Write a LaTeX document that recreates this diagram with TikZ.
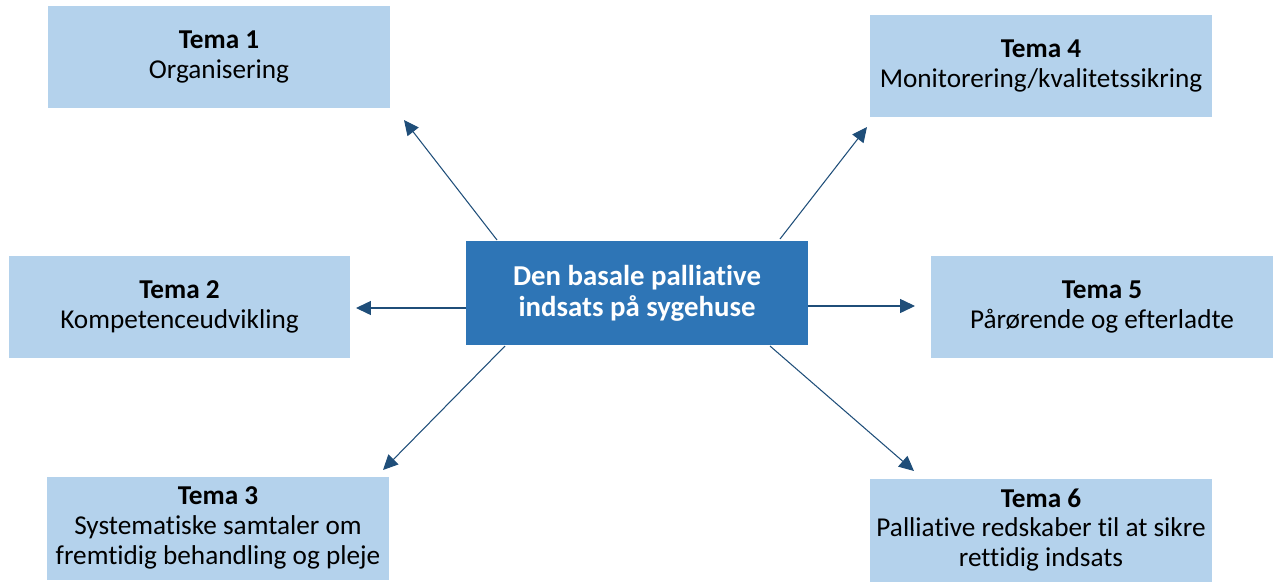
\documentclass[tikz,border=0pt]{standalone}
\usepackage{fontspec}
\setmainfont{Carlito}[Ligatures=NoCommon]
\usetikzlibrary{arrows.meta}
\definecolor{temafill}{HTML}{B4D2EC}
\definecolor{hubfill}{HTML}{2E75B6}
\definecolor{pil}{HTML}{1F4E79}
\tikzset{
  tema/.style={fill=temafill,minimum width=6.84cm,minimum height=2.06cm,
    align=center,inner sep=2pt,font=\fontsize{15.5}{17}\selectfont},
  hub/.style={fill=hubfill,text=white,minimum width=6.84cm,minimum height=2.08cm,
    align=center,font=\fontsize{16.4}{17.5}\selectfont\bfseries},
  pile/.style={draw=pil,line width=0.6pt,-{Triangle[length=8.5pt,width=8pt]}}
}
\begin{document}
\begin{tikzpicture}[x=0.02cm,y=-0.02cm]
  \useasboundingbox (0,0) rectangle (1274,582);
  % temaer
  \node[tema] (t1) at (219,57)   {\textbf{Tema 1}\\Organisering};
  \node[tema] (t2) at (179.5,307) {\textbf{Tema 2}\\Kompetenceudvikling};
  \node[tema] (t3) at (218,528)  {\textbf{Tema 3}\\Systematiske samtaler om\\fremtidig behandling og pleje};
  \node[tema] (t4) at (1041,66)  {\textbf{Tema 4}\\Monitorering/kvalitetssikring};
  \node[tema] (t5) at (1102,307) {\textbf{Tema 5}\\Pårørende og efterladte};
  \node[tema] (t6) at (1041,530) {\textbf{Tema 6}\\Palliative redskaber til at sikre\\rettidig indsats};
  % midten
  \node[hub] (hub) at (637,293) {Den basale palliative\\indsats på sygehuse};
  % pilenes ender
  \coordinate (s1) at (497,240);  \coordinate (e1) at (404,120);
  \coordinate (s2) at (466,308);  \coordinate (e2) at (356,308);
  \coordinate (s3) at (505,346);  \coordinate (e3) at (383,470);
  \coordinate (s4) at (780,239);  \coordinate (e4) at (867,127);
  \coordinate (s5) at (808,306);  \coordinate (e5) at (915,306);
  \coordinate (s6) at (770,346);  \coordinate (e6) at (914,471);
  \foreach \i in {1,...,6}
    \draw[pile] (s\i) -- (e\i);
\end{tikzpicture}
\end{document}
